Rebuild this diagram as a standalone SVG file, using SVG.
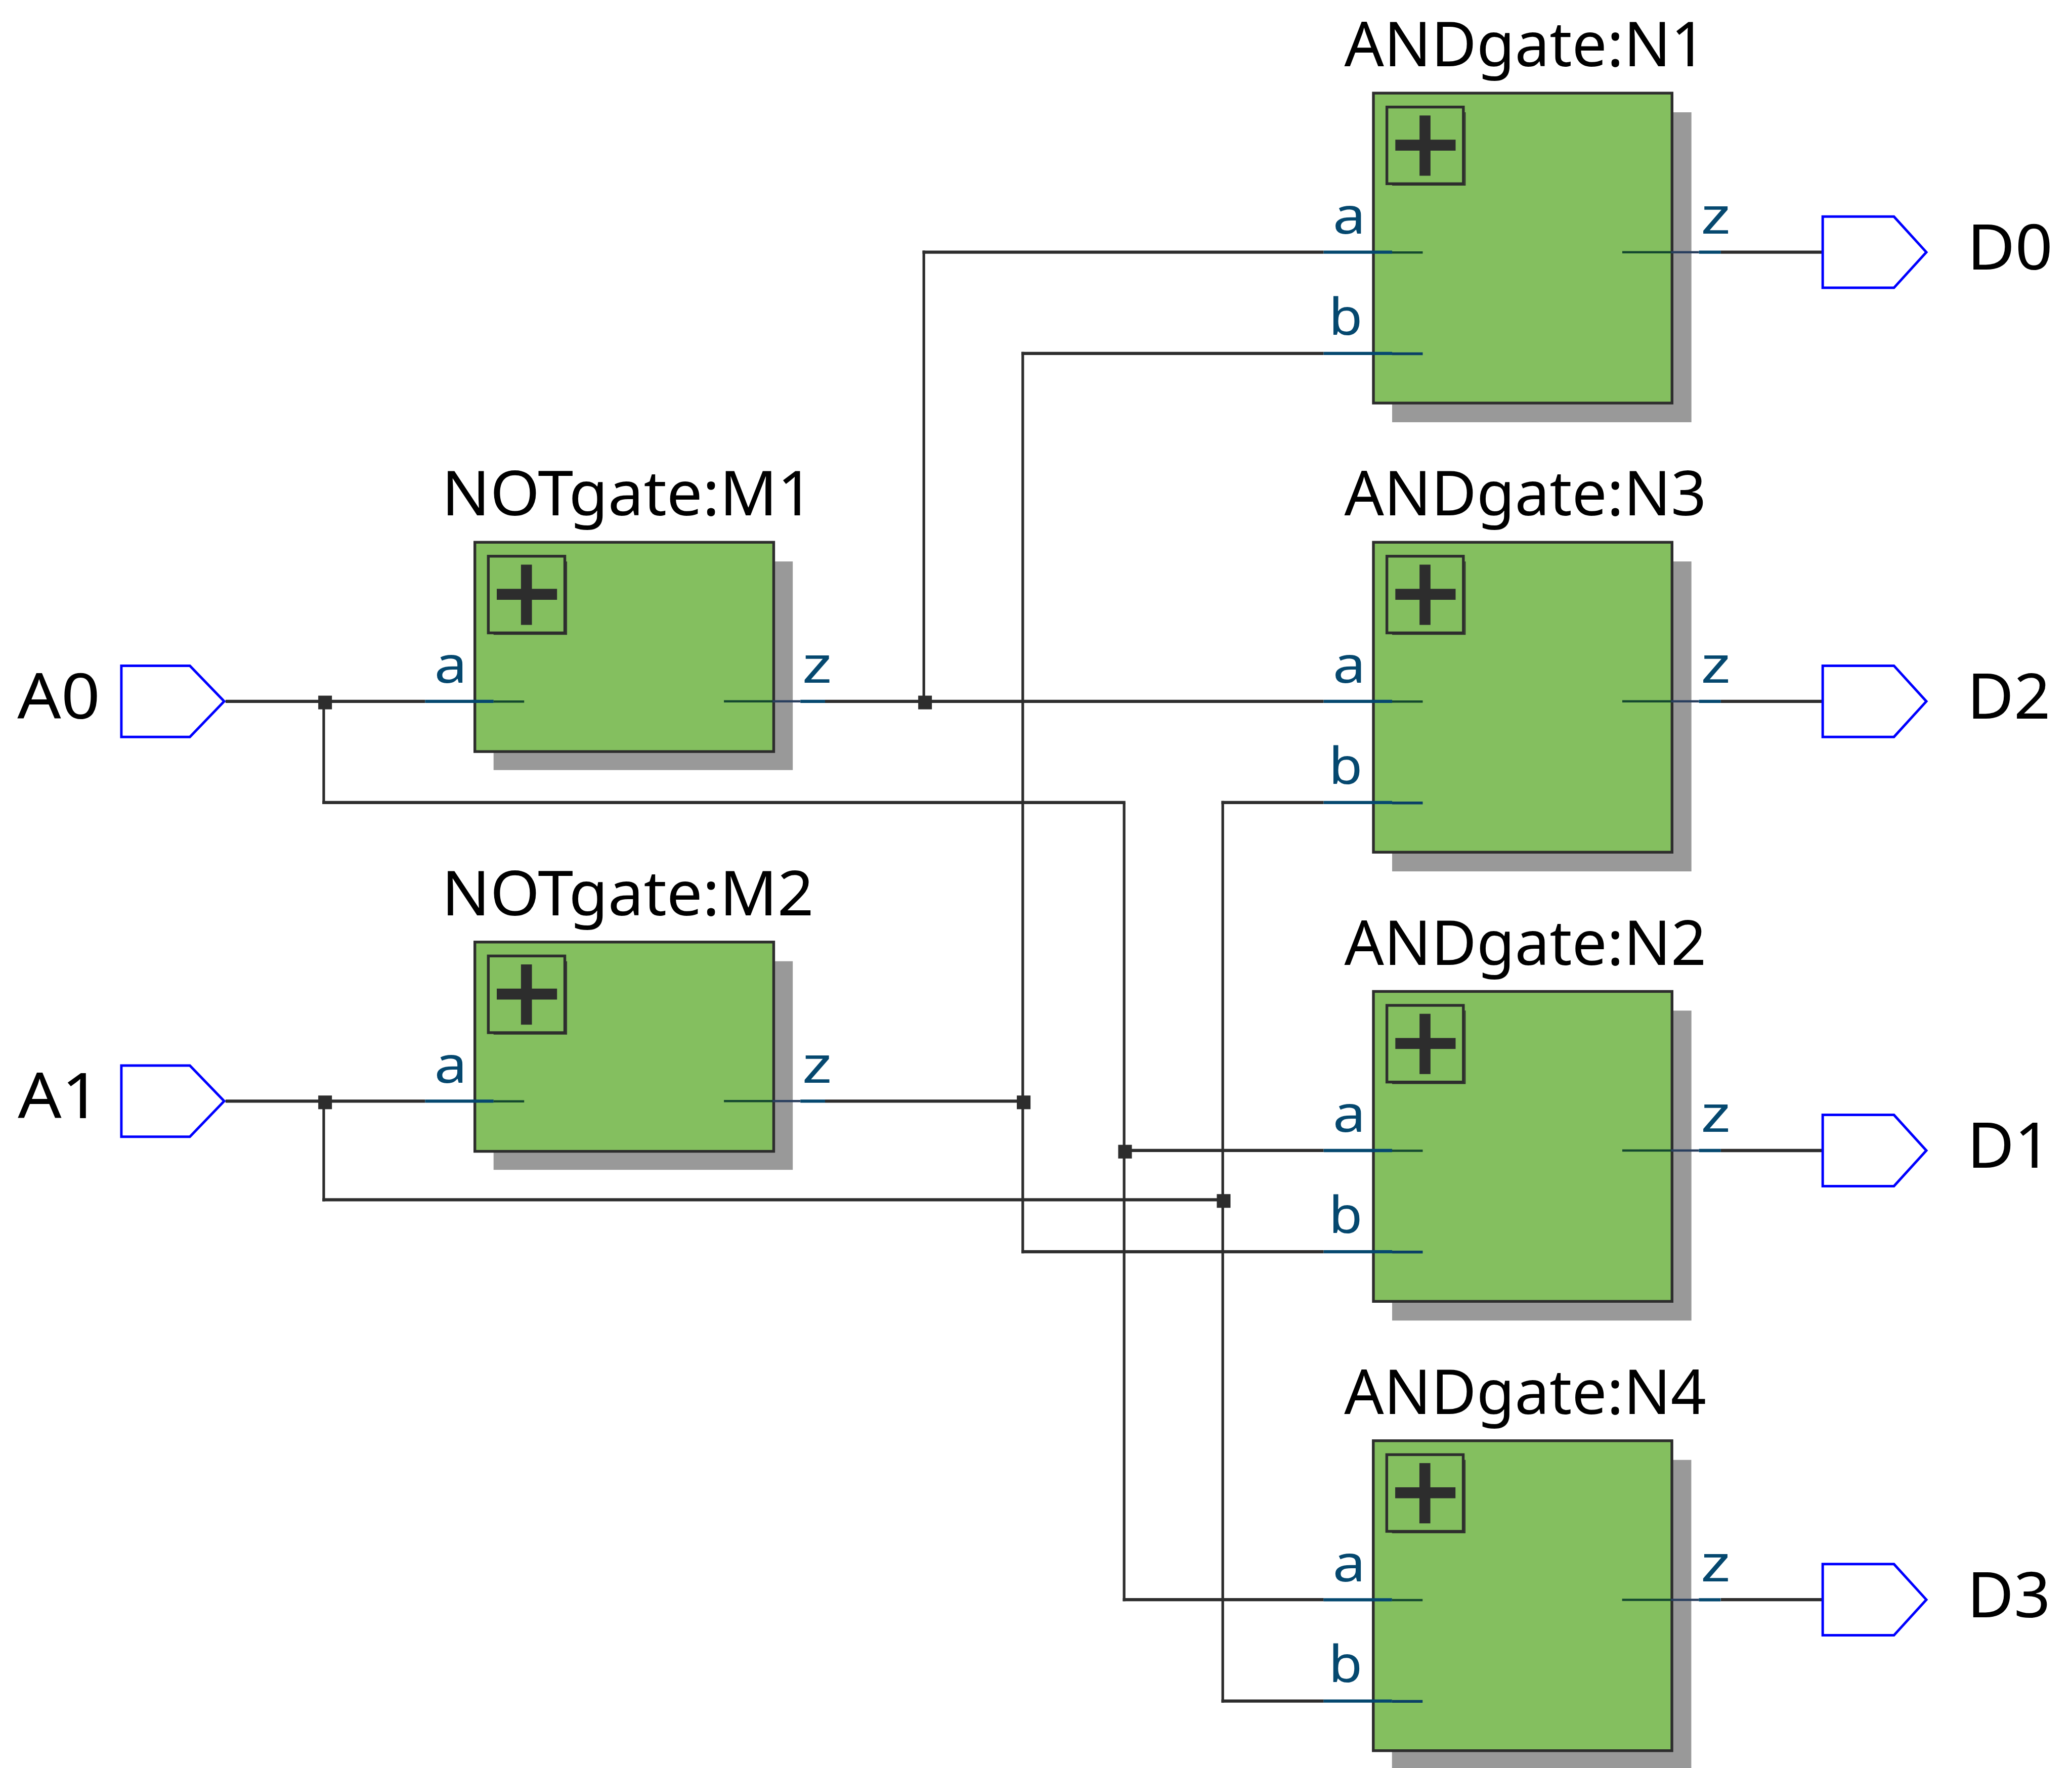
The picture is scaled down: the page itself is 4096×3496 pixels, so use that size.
<svg xmlns="http://www.w3.org/2000/svg" xmlns:xlink="http://www.w3.org/1999/xlink" width="4096" height="3496" viewBox="0 0 4096 3496">
<style>
.h{stroke:#2d2d2d;stroke-width:7;fill:none}
.v{stroke:#2d2d2d;stroke-width:5.8;fill:none}
.j{fill:#2d2d2d}
.sh{fill:#999999}
.box{fill:#84bf5f;stroke:#2d2d2d;stroke-width:6}
.ic{fill:none;stroke:#2d2d2d;stroke-width:6}
.ic2{fill:none;stroke:#2d2d2d;stroke-width:2}
.pl{fill:#2d2d2d}
.st{stroke:#05486f;stroke-width:7;fill:none}
.si{stroke:#14492f;stroke-width:5;fill:none}
.sb{stroke:#0a4066;stroke-width:6;fill:none}
.sn{stroke:#2a3f5f;stroke-width:5;fill:none}
.t{font-family:"Noto Sans","DejaVu Sans",sans-serif;font-size:135px;fill:#000}
.e{font-family:"Noto Sans","DejaVu Sans",sans-serif;font-size:138px;fill:#000}
.p{font-family:"Noto Sans","DejaVu Sans",sans-serif;font-size:111px;fill:#05486f}
.port{fill:#fff;stroke:#0000ff;stroke-width:5.5;stroke-linejoin:miter}
</style>
<defs>
<g id="icon">
<rect class="ic" x="29.5" y="30.5" width="167.5" height="168"/>
<path class="ic2" d="M41 201.700H201V42"/>
<rect class="pl" x="101" y="49" width="24" height="132"/>
<rect class="pl" x="48" y="102" width="132" height="24"/>
</g>
<g id="stubZ">
<path class="si" d="M545 348.500H652"/>
<path class="sn" d="M652 348.500H713"/>
<path class="st" d="M713 348.500H761"/>
</g>
<g id="stubA">
<path class="st" d="M-109 348.500H41"/>
<path class="si" d="M41 349H108"/>
</g>
<g id="stubB">
<path class="st" d="M-109 570.200H41"/>
<path class="sb" d="M41 571H108"/>
</g>
<polygon id="inPort" class="port" points="0,-78 150,-78 225.200,0 150,78 0,78"/>
<polygon id="outPort" class="port" points="0,-78 156,-78 227,0 156,78 0,78"/>
</defs>
<g transform="scale(0.9026)">
<rect x="0" y="0" width="4538" height="3873" fill="#ffffff"/>
<g id="connectors">
<path class="h" d="M494 1536.500H931"/>
<path class="v" d="M709 1536.500V1761.700"/>
<path class="h" d="M706 1758.200H2464.900"/>
<path class="v" d="M2462 1758.200V3508"/>
<path class="h" d="M2459.100 3504.500H2899"/>
<path class="h" d="M2462 2520.300H2899"/>
<path class="h" d="M494 2412.300H931"/>
<path class="v" d="M709 2412.300V2631.800"/>
<path class="h" d="M706 2628.300H2678"/>
<path class="v" d="M2678 1754.700V3730"/>
<path class="h" d="M2675 1758.200H2899"/>
<path class="h" d="M2675 3726.500H2899"/>
<path class="h" d="M1807 1536.500H2899"/>
<path class="v" d="M2023.300 549V1536.500"/>
<path class="h" d="M2020.400 552.500H2899"/>
<path class="h" d="M1807 2412.300H2240"/>
<path class="v" d="M2240 770.700V2745.700"/>
<path class="h" d="M2237.100 774.200H2899"/>
<path class="h" d="M2237.100 2742.200H2899"/>
<path class="h" d="M3769 552.500H3992"/>
<path class="h" d="M3769 1536.500H3992"/>
<path class="h" d="M3769 2520.500H3992"/>
<path class="h" d="M3769 3504.500H3992"/>
<rect class="j" x="697" y="1524" width="30" height="30"/>
<rect class="j" x="697" y="2400" width="30" height="30"/>
<rect class="j" x="2011" y="1524" width="30" height="30"/>
<rect class="j" x="2227" y="2400" width="30" height="30"/>
<rect class="j" x="2449" y="2508" width="30" height="30"/>
<rect class="j" x="2665" y="2616" width="30" height="30"/>
</g>
<g id="A0"><use href="#inPort" xlink:href="#inPort" x="265.800" y="1536.500"/><text class="e" x="38" y="1574" textLength="181.500" lengthAdjust="spacingAndGlyphs">A0</text></g>
<g id="A1"><use href="#inPort" xlink:href="#inPort" x="265.800" y="2412.300"/><text class="e" x="39" y="2450" textLength="181.500" lengthAdjust="spacingAndGlyphs">A1</text></g>
<g id="M1" transform="translate(1040 1188)">
<rect class="sh" x="41" y="42" width="655.300" height="457"/>
<rect class="box" x="0" y="0" width="654.500" height="458.500"/>
<use href="#icon" xlink:href="#icon"/><use href="#stubA" xlink:href="#stubA"/>
<path class="si" d="M545.500 348.500H652"/><path class="sn" d="M652 348.500H713"/><path class="st" d="M713 348.500H767"/>
<text class="t" x="334.800" y="-58.500" text-anchor="middle" textLength="815" lengthAdjust="spacingAndGlyphs">NOTgate:M1</text>
<text class="p" x="-89" y="307.700" textLength="72" lengthAdjust="spacingAndGlyphs">a</text><text class="p" x="717" y="307.700" textLength="65" lengthAdjust="spacingAndGlyphs">z</text>
</g>
<g id="M2" transform="translate(1040 2063.800)">
<rect class="sh" x="41" y="42" width="655.300" height="457"/>
<rect class="box" x="0" y="0" width="654.500" height="458.500"/>
<use href="#icon" xlink:href="#icon"/><use href="#stubA" xlink:href="#stubA"/>
<path class="si" d="M545.500 348.500H652"/><path class="sn" d="M652 348.500H713"/><path class="st" d="M713 348.500H767"/>
<text class="t" x="334.800" y="-58.500" text-anchor="middle" textLength="815" lengthAdjust="spacingAndGlyphs">NOTgate:M2</text>
<text class="p" x="-89" y="307.700" textLength="72" lengthAdjust="spacingAndGlyphs">a</text><text class="p" x="717" y="307.700" textLength="65" lengthAdjust="spacingAndGlyphs">z</text>
</g>
<g id="N1" transform="translate(3008 204)">
<rect class="sh" x="41" y="42" width="655.500" height="679"/>
<rect class="box" x="0" y="0" width="654" height="679"/>
<use href="#icon" xlink:href="#icon"/><use href="#stubA" xlink:href="#stubA"/><use href="#stubB" xlink:href="#stubB"/><use href="#stubZ" xlink:href="#stubZ"/>
<text class="t" x="332.800" y="-58.500" text-anchor="middle" textLength="793" lengthAdjust="spacingAndGlyphs">ANDgate:N1</text>
<text class="p" x="-89" y="307.700" textLength="72" lengthAdjust="spacingAndGlyphs">a</text><text class="p" x="-97.700" y="529" textLength="73.800" lengthAdjust="spacingAndGlyphs">b</text><text class="p" x="717" y="307.700" textLength="65" lengthAdjust="spacingAndGlyphs">z</text>
</g>
<g id="N3" transform="translate(3008 1188)">
<rect class="sh" x="41" y="42" width="655.500" height="679"/>
<rect class="box" x="0" y="0" width="654" height="679"/>
<use href="#icon" xlink:href="#icon"/><use href="#stubA" xlink:href="#stubA"/><use href="#stubB" xlink:href="#stubB"/><use href="#stubZ" xlink:href="#stubZ"/>
<text class="t" x="332.800" y="-58.500" text-anchor="middle" textLength="793" lengthAdjust="spacingAndGlyphs">ANDgate:N3</text>
<text class="p" x="-89" y="307.700" textLength="72" lengthAdjust="spacingAndGlyphs">a</text><text class="p" x="-97.700" y="529" textLength="73.800" lengthAdjust="spacingAndGlyphs">b</text><text class="p" x="717" y="307.700" textLength="65" lengthAdjust="spacingAndGlyphs">z</text>
</g>
<g id="N2" transform="translate(3008 2172)">
<rect class="sh" x="41" y="42" width="655.500" height="679"/>
<rect class="box" x="0" y="0" width="654" height="679"/>
<use href="#icon" xlink:href="#icon"/><use href="#stubA" xlink:href="#stubA"/><use href="#stubB" xlink:href="#stubB"/><use href="#stubZ" xlink:href="#stubZ"/>
<text class="t" x="332.800" y="-58.500" text-anchor="middle" textLength="793" lengthAdjust="spacingAndGlyphs">ANDgate:N2</text>
<text class="p" x="-89" y="307.700" textLength="72" lengthAdjust="spacingAndGlyphs">a</text><text class="p" x="-97.700" y="529" textLength="73.800" lengthAdjust="spacingAndGlyphs">b</text><text class="p" x="717" y="307.700" textLength="65" lengthAdjust="spacingAndGlyphs">z</text>
</g>
<g id="N4" transform="translate(3007.700 3156.300)">
<rect class="sh" x="41" y="42" width="655.500" height="679"/>
<rect class="box" x="0" y="0" width="654" height="679"/>
<use href="#icon" xlink:href="#icon"/><use href="#stubA" xlink:href="#stubA"/><use href="#stubB" xlink:href="#stubB"/><use href="#stubZ" xlink:href="#stubZ"/>
<text class="t" x="332.800" y="-58.500" text-anchor="middle" textLength="793" lengthAdjust="spacingAndGlyphs">ANDgate:N4</text>
<text class="p" x="-89" y="307.700" textLength="72" lengthAdjust="spacingAndGlyphs">a</text><text class="p" x="-97.700" y="529" textLength="73.800" lengthAdjust="spacingAndGlyphs">b</text><text class="p" x="717" y="307.700" textLength="65" lengthAdjust="spacingAndGlyphs">z</text>
</g>
<g id="D0"><use href="#outPort" xlink:href="#outPort" x="3992" y="552.500"/><text class="e" x="4308" y="590.700" textLength="188" lengthAdjust="spacingAndGlyphs">D0</text></g>
<g id="D2"><use href="#outPort" xlink:href="#outPort" x="3992" y="1536.500"/><text class="e" x="4308" y="1574.700" textLength="183" lengthAdjust="spacingAndGlyphs">D2</text></g>
<g id="D1"><use href="#outPort" xlink:href="#outPort" x="3992" y="2520.500"/><text class="e" x="4308" y="2558.700" textLength="185" lengthAdjust="spacingAndGlyphs">D1</text></g>
<g id="D3"><use href="#outPort" xlink:href="#outPort" x="3992" y="3504.500"/><text class="e" x="4308" y="3542.700" textLength="183" lengthAdjust="spacingAndGlyphs">D3</text></g>
</g>
</svg>
